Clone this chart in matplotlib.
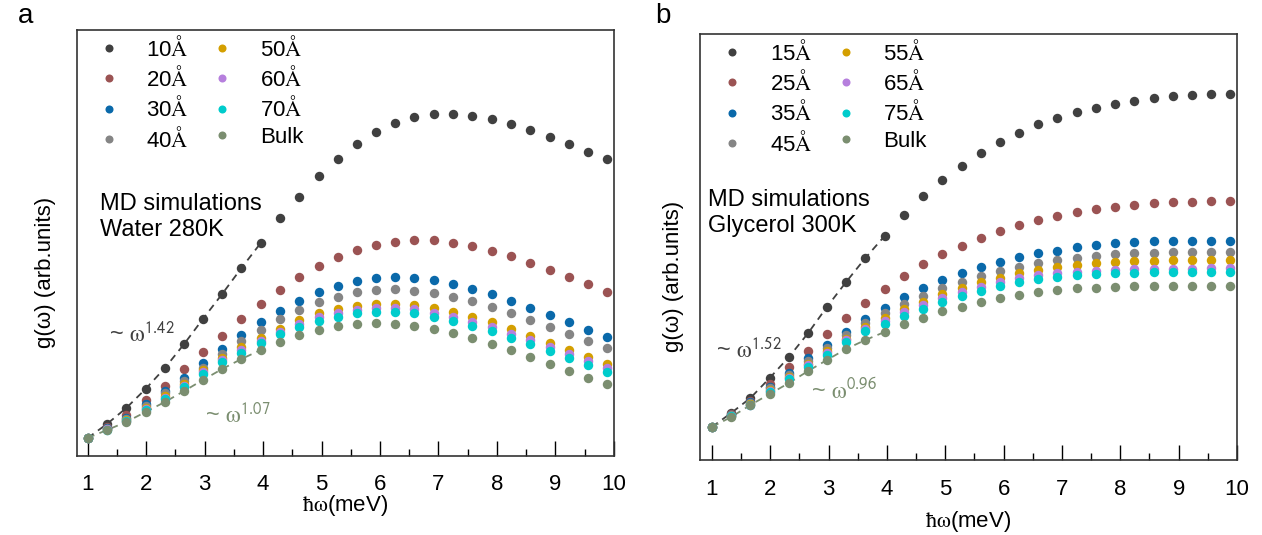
import matplotlib
matplotlib.use("Agg")
import matplotlib.pyplot as plt

plt.rcParams['font.family'] = ['Liberation Sans', 'DejaVu Sans']
plt.rcParams['mathtext.fontset'] = 'stix'
plt.rcParams['font.size'] = 16

# energy axis (meV), same grid for both panels
energy = [1.00, 1.33, 1.66, 1.99, 2.32, 2.65, 2.97, 3.30, 3.63, 3.96,
          4.29, 4.62, 4.95, 5.28, 5.61, 5.94, 6.26, 6.59, 6.92, 7.25,
          7.58, 7.91, 8.24, 8.57, 8.90, 9.23, 9.55, 9.88]

# panel a: water 280K
water_labels = [r"10$\mathrm{\AA}$", r"20$\mathrm{\AA}$", r"30$\mathrm{\AA}$", r"40$\mathrm{\AA}$",
                r"50$\mathrm{\AA}$", r"60$\mathrm{\AA}$", r"70$\mathrm{\AA}$", "Bulk"]
water_10 = [0.18, 0.32, 0.48, 0.67, 0.88, 1.12, 1.37, 1.62, 1.88, 2.13, 2.38, 2.59, 2.80, 2.97,
            3.12, 3.24, 3.33, 3.39, 3.42, 3.42, 3.40, 3.37, 3.32, 3.26, 3.19, 3.12, 3.04, 2.97]
water_20 = [0.18, 0.29, 0.41, 0.56, 0.70, 0.87, 1.04, 1.20, 1.37, 1.52, 1.66, 1.79, 1.90, 1.99,
            2.06, 2.11, 2.14, 2.16, 2.16, 2.13, 2.10, 2.05, 2.00, 1.93, 1.86, 1.79, 1.72, 1.64]
water_30 = [0.18, 0.28, 0.38, 0.52, 0.65, 0.78, 0.93, 1.07, 1.21, 1.34, 1.45, 1.55, 1.64, 1.70,
            1.75, 1.78, 1.79, 1.78, 1.76, 1.72, 1.67, 1.62, 1.55, 1.48, 1.41, 1.34, 1.26, 1.19]
water_40 = [0.18, 0.27, 0.37, 0.50, 0.63, 0.75, 0.88, 1.02, 1.15, 1.26, 1.37, 1.46, 1.54, 1.59,
            1.64, 1.66, 1.67, 1.65, 1.63, 1.59, 1.55, 1.49, 1.43, 1.36, 1.29, 1.22, 1.15, 1.08]
water_50 = [0.18, 0.27, 0.36, 0.48, 0.60, 0.72, 0.86, 0.98, 1.09, 1.18, 1.27, 1.36, 1.43, 1.47,
            1.50, 1.52, 1.52, 1.51, 1.48, 1.44, 1.39, 1.34, 1.27, 1.20, 1.13, 1.06, 0.99, 0.92]
water_60 = [0.18, 0.27, 0.35, 0.47, 0.58, 0.70, 0.84, 0.96, 1.06, 1.15, 1.24, 1.32, 1.39, 1.43,
            1.46, 1.48, 1.48, 1.47, 1.43, 1.39, 1.34, 1.29, 1.22, 1.16, 1.09, 1.02, 0.95, 0.88]
water_70 = [0.18, 0.26, 0.35, 0.46, 0.57, 0.69, 0.82, 0.94, 1.03, 1.13, 1.22, 1.29, 1.35, 1.39,
            1.43, 1.44, 1.44, 1.43, 1.39, 1.35, 1.30, 1.25, 1.18, 1.12, 1.05, 0.98, 0.91, 0.84]
water_bulk = [0.18, 0.26, 0.34, 0.44, 0.54, 0.65, 0.76, 0.87, 0.97, 1.06, 1.14, 1.21, 1.26, 1.30,
              1.32, 1.33, 1.32, 1.30, 1.27, 1.23, 1.18, 1.12, 1.06, 0.99, 0.92, 0.85, 0.78, 0.72]

# panel b: glycerol 300K
gly_labels = [r"15$\mathrm{\AA}$", r"25$\mathrm{\AA}$", r"35$\mathrm{\AA}$", r"45$\mathrm{\AA}$",
              r"55$\mathrm{\AA}$", r"65$\mathrm{\AA}$", r"75$\mathrm{\AA}$", "Bulk"]
gly_15 = [0.33, 0.47, 0.62, 0.82, 1.03, 1.27, 1.53, 1.78, 2.02, 2.24, 2.45, 2.64, 2.80, 2.94,
          3.07, 3.18, 3.27, 3.36, 3.42, 3.48, 3.52, 3.56, 3.59, 3.62, 3.64, 3.65, 3.66, 3.66]
gly_25 = [0.33, 0.46, 0.59, 0.76, 0.93, 1.09, 1.26, 1.42, 1.57, 1.71, 1.84, 1.96, 2.06, 2.14,
          2.22, 2.29, 2.35, 2.40, 2.44, 2.48, 2.51, 2.53, 2.55, 2.57, 2.58, 2.58, 2.59, 2.59]
gly_35 = [0.33, 0.45, 0.58, 0.73, 0.87, 1.02, 1.15, 1.28, 1.41, 1.52, 1.63, 1.72, 1.80, 1.87,
          1.93, 1.98, 2.03, 2.07, 2.09, 2.13, 2.15, 2.17, 2.18, 2.19, 2.19, 2.19, 2.19, 2.19]
gly_45 = [0.33, 0.45, 0.57, 0.72, 0.85, 0.99, 1.12, 1.25, 1.37, 1.47, 1.56, 1.64, 1.72, 1.78,
          1.84, 1.89, 1.93, 1.97, 2.00, 2.02, 2.04, 2.06, 2.07, 2.07, 2.08, 2.08, 2.08, 2.08]
gly_55 = [0.33, 0.44, 0.56, 0.70, 0.83, 0.96, 1.09, 1.21, 1.33, 1.42, 1.51, 1.58, 1.66, 1.72,
          1.78, 1.82, 1.87, 1.90, 1.93, 1.95, 1.97, 1.98, 1.99, 1.99, 2.00, 2.00, 2.00, 2.00]
gly_65 = [0.33, 0.44, 0.55, 0.69, 0.82, 0.95, 1.07, 1.20, 1.31, 1.39, 1.48, 1.55, 1.62, 1.68,
          1.73, 1.78, 1.82, 1.85, 1.87, 1.88, 1.89, 1.90, 1.91, 1.91, 1.91, 1.91, 1.92, 1.92]
gly_75 = [0.33, 0.44, 0.55, 0.68, 0.81, 0.93, 1.05, 1.18, 1.29, 1.36, 1.44, 1.51, 1.58, 1.64,
          1.69, 1.74, 1.78, 1.81, 1.83, 1.85, 1.86, 1.87, 1.87, 1.88, 1.88, 1.88, 1.88, 1.88]
gly_bulk = [0.33, 0.43, 0.55, 0.66, 0.77, 0.89, 1.00, 1.11, 1.20, 1.28, 1.36, 1.42, 1.49, 1.53,
            1.58, 1.62, 1.65, 1.68, 1.70, 1.72, 1.72, 1.73, 1.74, 1.74, 1.74, 1.74, 1.74, 1.74]

colors = ["#404040", "#9b5353", "#0a69aa", "#858585", "#d49f00", "#b67fdd", "#00cccc", "#7b8e70"]
n_fit = 10  # points covered by the dashed power-law guides

fig = plt.figure(figsize=(12.62, 5.35), dpi=100)
ax1 = fig.add_axes([0.0607, 0.1477, 0.4257, 0.797])
ax2 = fig.add_axes([0.5547, 0.1402, 0.4255, 0.797])

panels = [
    (ax1, [water_10, water_20, water_30, water_40, water_50, water_60, water_70, water_bulk],
     water_labels, "Water 280K", "1.42", "1.07", 0.81,
     (0.060, 0.267), (0.239, 0.077), (0.043, 0.56), "a", 0.014, -1.5, 14.5, 13),
    (ax2, [gly_15, gly_25, gly_35, gly_45, gly_55, gly_65, gly_75, gly_bulk],
     gly_labels, "Glycerol 300K", "1.52", "0.96", 0.796,
     (0.030, 0.239), (0.207, 0.145), (0.015, 0.58), "b", 0.519, 6.5, 11.5, 14),
]

for (ax, series, labels, sample, p1, p2, xmin, pos1, pos2, pos_md,
     tag, tagx, xpad, ypad, tpad) in panels:
    for y, c, lab in zip(series, colors, labels):
        ax.plot(energy, y, ls="none", marker="o", ms=6.8, mew=0, color=c, label=lab, zorder=3)
    ax.plot(energy[:n_fit], series[0][:n_fit], ls=(0, (4, 3)), lw=1.3, color=colors[0], zorder=2)
    ax.plot(energy[:n_fit], series[-1][:n_fit], ls=(0, (4, 3)), lw=1.3, color=colors[-1], zorder=2)

    ax.text(pos1[0], pos1[1], r"~ $\mathrm{\omega}^{\mathsf{" + p1 + "}}$", transform=ax.transAxes,
            color=colors[0], fontsize=17, va="baseline")
    ax.text(pos2[0], pos2[1], r"~ $\mathrm{\omega}^{\mathsf{" + p2 + "}}$", transform=ax.transAxes,
            color=colors[-1], fontsize=17, va="baseline")
    ax.text(pos_md[0], pos_md[1], "MD simulations\n" + sample, transform=ax.transAxes,
            va="center", ha="left", linespacing=1.25, fontsize=17)

    ax.set_xlim(xmin, 10)
    ax.set_ylim(0, 4.264)
    ax.set_xticks(range(1, 11))
    ax.set_xticks([1.5 + k for k in range(9)], minor=True)
    ax.set_yticks([])
    ax.tick_params(axis="x", which="major", direction="in", length=11, width=1, pad=tpad)
    ax.tick_params(axis="x", which="minor", direction="in", length=5, width=1)
    for s in ax.spines.values():
        s.set_linewidth(1.2)
        s.set_color("#333333")
    ax.set_xlabel(r"$\mathrm{\hbar}\mathrm{\omega}$(meV)", labelpad=xpad)
    ax.set_ylabel("g(ω) (arb.units)", labelpad=ypad, y=0.43)

    ax.legend(ncol=2, loc="upper left", bbox_to_anchor=(0.01, 1.022), frameon=False,
              markerscale=0.85, handlelength=1.0, handletextpad=1.2, columnspacing=1.0,
              labelspacing=0.24, borderaxespad=0.3)

    fig.text(tagx, 0.97, tag, fontsize=20, va="center", ha="left")

fig.savefig("out.png", dpi=100)
